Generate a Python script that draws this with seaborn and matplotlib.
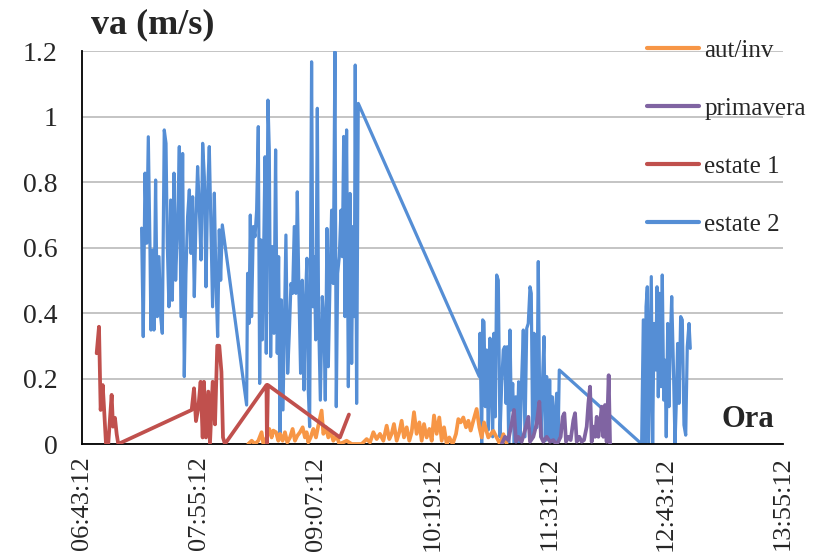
import pandas as pd
import matplotlib.pyplot as plt
import seaborn as sns

sns.set_style('white')
plt.rcParams['font.family'] = ['Liberation Serif', 'DejaVu Serif']

# ora = time of day in decimal hours, va in m/s

aut_ora = [8.425, 8.460, 8.494, 8.528, 8.562, 8.580, 8.614, 8.641, 8.665, 8.682,
           8.710, 8.734, 8.751, 8.778, 8.802, 8.826, 8.854, 8.881, 8.905, 8.929,
           8.957, 8.984, 9.008, 9.025, 9.042, 9.066, 9.094, 9.121, 9.145, 9.179,
           9.197, 9.224, 9.248, 9.272, 9.299, 9.334, 9.361, 9.402, 9.436, 9.488,
           9.539, 9.591, 9.642, 9.677, 9.711, 9.745, 9.779, 9.814, 9.848, 9.875,
           9.899, 9.923, 9.951, 9.978, 10.002, 10.026, 10.054, 10.081, 10.105, 10.129,
           10.156, 10.184, 10.208, 10.232, 10.259, 10.287, 10.311, 10.335, 10.362, 10.389,
           10.414, 10.438, 10.465, 10.492, 10.527, 10.561, 10.585, 10.609, 10.636, 10.664,
           10.688, 10.712, 10.739, 10.773, 10.801, 10.825, 10.849, 10.893, 10.945, 10.979,
           11.013, 11.048, 11.082]
aut_va = [0.0, 0.01, 0.0, 0.01, 0.036, 0.0, 0.02, 0.046, 0.02, 0.041,
          0.036, 0.01, 0.031, 0.01, 0.036, 0.005, 0.02, 0.046, 0.01, 0.025,
          0.036, 0.051, 0.02, 0.036, 0.005, 0.02, 0.046, 0.02, 0.056, 0.102,
          0.031, 0.051, 0.02, 0.041, 0.01, 0.025, 0.0, 0.005, 0.01, 0.0,
          0.0, 0.0, 0.015, 0.005, 0.036, 0.015, 0.031, 0.01, 0.056, 0.015,
          0.031, 0.061, 0.01, 0.036, 0.071, 0.02, 0.051, 0.01, 0.036, 0.097,
          0.031, 0.066, 0.01, 0.061, 0.02, 0.046, 0.01, 0.087, 0.031, 0.081,
          0.01, 0.051, 0.0, 0.02, 0.0, 0.031, 0.076, 0.066, 0.081, 0.051,
          0.071, 0.041, 0.071, 0.107, 0.051, 0.02, 0.066, 0.02, 0.04, 0.02,
          0.0, 0.03, 0.0]

prim_ora = [11.031, 11.065, 11.099, 11.134, 11.157, 11.178, 11.202, 11.236, 11.271, 11.305,
            11.322, 11.356, 11.391, 11.418, 11.435, 11.459, 11.493, 11.528, 11.562, 11.589,
            11.613, 11.637, 11.658, 11.675, 11.692, 11.716, 11.740, 11.768, 11.785, 11.802,
            11.829, 11.853, 11.877, 11.905, 11.922, 11.939, 11.956, 11.973, 11.991, 12.008,
            12.025, 12.042, 12.059, 12.076, 12.093, 12.110, 12.131, 12.145]
prim_va = [0.0, 0.022, 0.012, 0.063, 0.104, 0.007, 0.022, 0.007, 0.043, 0.083,
           0.007, 0.022, 0.063, 0.129, 0.022, 0.007, 0.022, 0.007, 0.012, 0.0,
           0.007, 0.022, 0.083, 0.094, 0.007, 0.022, 0.012, 0.073, 0.094, 0.007,
           0.022, 0.007, 0.012, 0.053, 0.124, 0.175, 0.007, 0.053, 0.022, 0.083,
           0.022, 0.063, 0.114, 0.022, 0.119, 0.007, 0.21, 0.0]

est1_ora = [6.866, 6.890, 6.907, 6.928, 6.941, 6.962, 6.985, 7.020, 7.034, 7.054,
            7.072, 7.088, 7.843, 7.867, 7.887, 7.911, 7.935, 7.956, 7.969, 7.990,
            8.014, 8.031, 8.059, 8.083, 8.106, 8.127, 8.149, 8.165, 8.185, 8.612,
            8.617, 8.627, 9.368, 9.460]
est1_va = [0.277, 0.358, 0.104, 0.18, 0.114, 0.0, 0.0, 0.15, 0.053, 0.08,
           0.03, 0.0, 0.104, 0.17, 0.07, 0.11, 0.19, 0.02, 0.19, 0.02,
           0.16, 0.0, 0.19, 0.06, 0.30, 0.30, 0.22, 0.02, 0.0, 0.18,
           0.0, 0.18, 0.02, 0.09]

est2_ora = [7.328, 7.345, 7.363, 7.380, 7.397, 7.414, 7.424, 7.441, 7.455, 7.472,
            7.489, 7.507, 7.524, 7.541, 7.561, 7.579, 7.592, 7.609, 7.627, 7.644,
            7.661, 7.678, 7.699, 7.716, 7.733, 7.750, 7.767, 7.784, 7.801, 7.819,
            7.836, 7.853, 7.870, 7.887, 7.904, 7.921, 7.939, 7.956, 7.973, 7.990,
            8.007, 8.024, 8.041, 8.058, 8.076, 8.093, 8.110, 8.127, 8.141, 8.158,
            8.408, 8.418, 8.432, 8.446, 8.459, 8.477, 8.494, 8.511, 8.528, 8.542,
            8.555, 8.569, 8.583, 8.597, 8.610, 8.627, 8.641, 8.655, 8.669, 8.689,
            8.706, 8.723, 8.737, 8.751, 8.765, 8.782, 8.795, 8.812, 8.830, 8.847,
            8.864, 8.881, 8.898, 8.915, 8.929, 8.946, 8.963, 8.980, 8.998, 9.011,
            9.028, 9.042, 9.056, 9.076, 9.090, 9.104, 9.118, 9.135, 9.148, 9.166,
            9.186, 9.203, 9.217, 9.234, 9.248, 9.265, 9.282, 9.299, 9.316, 9.330,
            9.344, 9.361, 9.378, 9.392, 9.406, 9.419, 9.436, 9.454, 9.471, 9.488,
            9.502, 9.515, 9.525, 9.539, 9.556,
            10.800, 10.808, 10.825, 10.835, 10.849, 10.862, 10.876, 10.893, 10.910, 10.924,
            10.938, 10.951, 10.965, 10.979, 10.996, 11.013, 11.031, 11.047, 11.061, 11.075,
            11.088, 11.103, 11.116, 11.129, 11.144, 11.160, 11.175, 11.188, 11.205, 11.219,
            11.236, 11.253, 11.270, 11.288, 11.304, 11.322, 11.335, 11.349, 11.363, 11.376,
            11.391, 11.407, 11.421, 11.435, 11.452, 11.466, 11.479, 11.493, 11.510, 11.524,
            11.538, 11.551, 11.568, 11.582, 11.596, 11.610, 11.623,
            12.470, 12.487, 12.504, 12.515, 12.528, 12.542, 12.556, 12.569, 12.583, 12.597,
            12.614, 12.628, 12.641, 12.655, 12.669, 12.682, 12.697, 12.710, 12.723, 12.738,
            12.751, 12.764, 12.779, 12.795, 12.813, 12.826, 12.840, 12.854, 12.871, 12.888,
            12.905, 12.923, 12.939, 12.957, 12.970]
est2_va = [0.659, 0.328, 0.827, 0.613, 0.938, 0.603, 0.348, 0.592, 0.348, 0.806,
           0.389, 0.572, 0.389, 0.338, 0.959, 0.918, 0.613, 0.419, 0.745, 0.439,
           0.827, 0.5, 0.684, 0.908, 0.389, 0.887, 0.206, 0.52, 0.694, 0.776,
           0.582, 0.755, 0.45, 0.684, 0.847, 0.725, 0.562, 0.918, 0.816, 0.48,
           0.766, 0.908, 0.664, 0.419, 0.766, 0.49, 0.328, 0.654, 0.5, 0.669,
           0.119, 0.521, 0.368, 0.699, 0.389, 0.664, 0.633, 0.714, 0.969, 0.185,
           0.623, 0.318, 0.582, 0.877, 0.277, 1.05, 0.898, 0.267, 0.603, 0.338,
           0.898, 0.277, 0.572, 0.033, 0.44, 0.104, 0.338, 0.638, 0.216, 0.338,
           0.49, 0.46, 0.664, 0.46, 0.77, 0.46, 0.216, 0.5, 0.165, 0.419,
           0.567, 0.165, 0.053, 1.167, 0.419, 0.572, 0.318, 1.025, 0.389, 0.134,
           0.45, 0.368, 0.134, 0.658, 0.236, 0.49, 0.714, 0.49, 1.198, 0.114,
           0.521, 0.572, 0.714, 0.572, 0.939, 0.389, 0.959, 0.175, 0.765, 0.246,
           0.664, 0.389, 1.157, 0.124, 1.04,
           0.206, 0.338, 0.0, 0.379, 0.373, 0.114, 0.287, 0.043, 0.323, 0.185,
           0.022, 0.338, 0.083, 0.516, 0.50, 0.022, 0.185, 0.287, 0.297, 0.124,
           0.297, 0.0, 0.348, 0.104, 0.185, 0.0, 0.144, 0.0, 0.19, 0.0,
           0.195, 0.348, 0.022, 0.353, 0.368, 0.48, 0.46, 0.022, 0.338, 0.114,
           0.05, 0.557, 0.134, 0.022, 0.206, 0.328, 0.01, 0.206, 0.022, 0.195,
           0.0, 0.144, 0.0, 0.094, 0.155, 0.0, 0.226,
           0.0, 0.379, 0.0, 0.419, 0.48, 0.0, 0.256, 0.511, 0.0, 0.368,
           0.226, 0.48, 0.144, 0.46, 0.175, 0.516, 0.134, 0.256, 0.022, 0.368,
           0.114, 0.307, 0.45, 0.256, 0.0, 0.124, 0.307, 0.124, 0.389, 0.379,
           0.058, 0.027, 0.297, 0.368, 0.292]

x_ticks = [6.72, 7.92, 9.12, 10.32, 11.52, 12.72, 13.92]
y_ticks = [0, 0.2, 0.4, 0.6, 0.8, 1.0, 1.2]
y_labels = ['0', '0.2', '0.4', '0.6', '0.8', '1', '1.2']

series = [
    ('aut/inv', aut_ora, aut_va, '#F79646', 2.7, 3),
    ('primavera', prim_ora, prim_va, '#8064A2', 2.7, 3),
    ('estate 1', est1_ora, est1_va, '#C0504D', 2.7, 4),
    ('estate 2', est2_ora, est2_va, '#558ED5', 2.3, 2),
]


def hms(h):
    s = int(round(h * 3600))
    return '%02d:%02d:%02d' % (s // 3600, (s % 3600) // 60, s % 60)


fig = plt.figure(figsize=(8.23, 5.58), dpi=100)
ax = fig.add_axes([0.1002, 0.2043, 0.8508, 0.7043])

for name, t, v, col, lw, z in series:
    df = pd.DataFrame({'ora': t, 'va': v})
    sns.lineplot(data=df, x='ora', y='va', ax=ax, color=col, linewidth=lw,
                 label=name, sort=False, estimator=None, zorder=z)

ax.set_xlim(6.72, 13.92)
ax.set_ylim(0, 1.2)
ax.set_xticks(x_ticks)
ax.set_xticklabels([hms(h) for h in x_ticks], rotation=90, fontsize=19)
ax.set_yticks(y_ticks)
ax.set_yticklabels(y_labels, fontsize=20)
ax.set_xlabel('')
ax.set_ylabel('')
ax.yaxis.grid(True, color='#BFBFBF', linewidth=1.3)
ax.xaxis.grid(False)
ax.set_axisbelow(True)
for s in ['top', 'right']:
    ax.spines[s].set_visible(False)
for s in ['left', 'bottom']:
    ax.spines[s].set_color('black')
    ax.spines[s].set_linewidth(1.3)
ax.tick_params(axis='x', direction='out', length=6, width=1.3, color='black', pad=3)
ax.tick_params(axis='y', direction='out', length=0, pad=18)

ax.text(0.913, 0.044, 'Ora', transform=ax.transAxes, fontsize=22,
        fontweight='bold', ha='left', va='baseline')
fig.text(0.111, 0.94, 'va (m/s)', fontsize=26, fontweight='bold',
         ha='left', va='baseline')

leg = ax.legend(loc='upper left', bbox_to_anchor=(0.786, 0.929),
                bbox_transform=fig.transFigure, frameon=False, fontsize=18,
                handlelength=2.1, handletextpad=0.2, labelspacing=1.42,
                borderpad=0, borderaxespad=0)
for line in leg.get_lines():
    line.set_linewidth(3)

fig.savefig('out.png', dpi=100)
